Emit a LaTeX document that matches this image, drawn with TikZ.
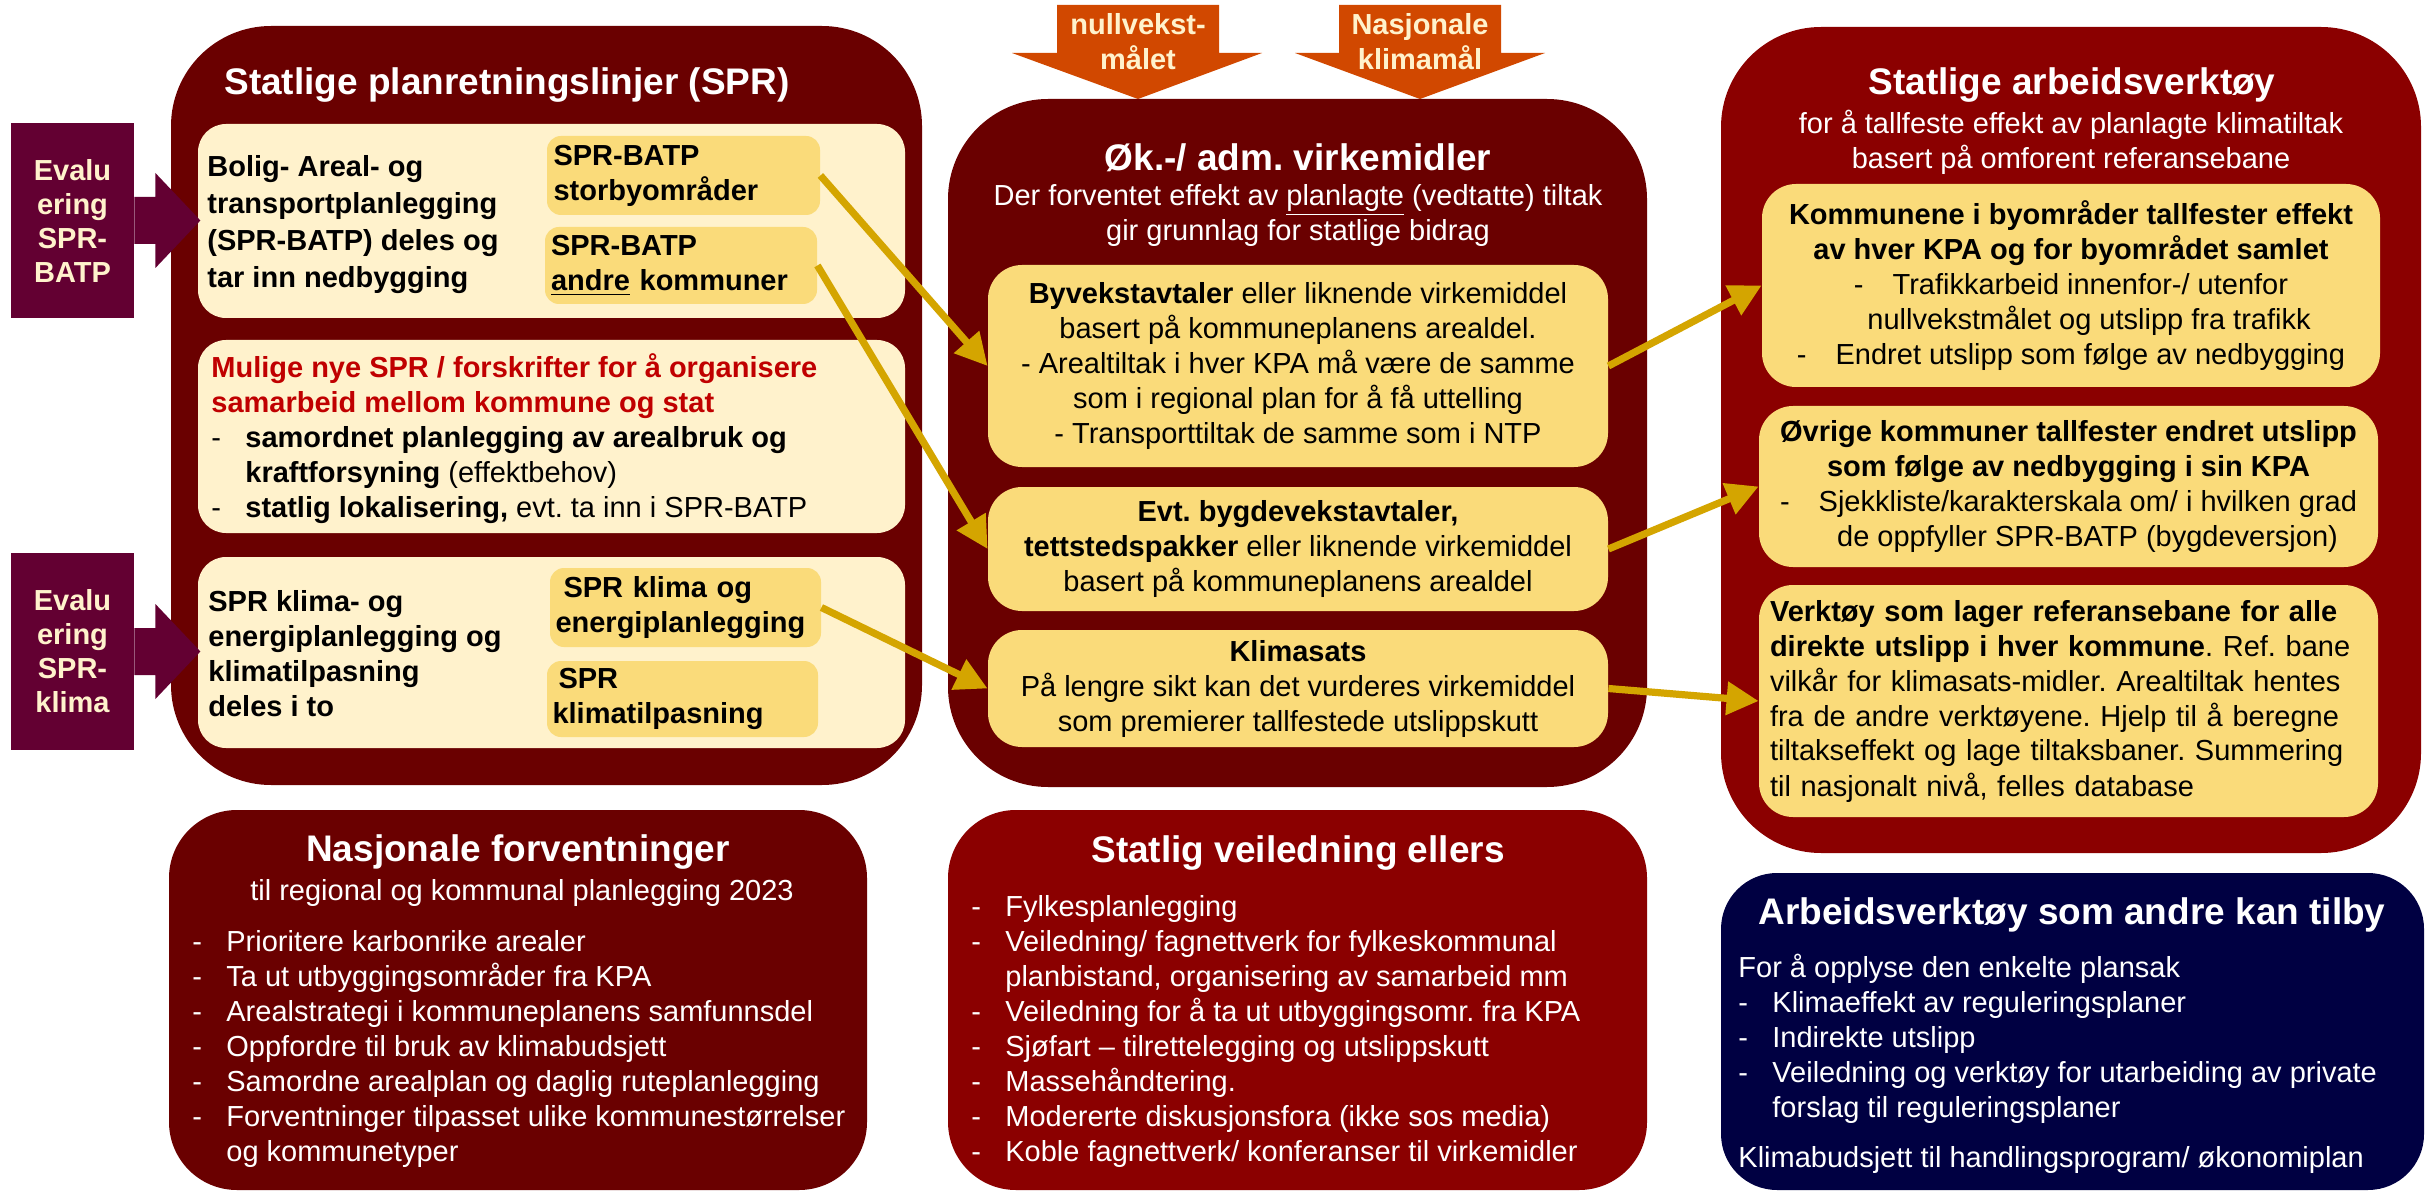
\documentclass[tikz,border=0pt]{standalone}
\usepackage{fontspec}
\setmainfont{Liberation Sans}
\usetikzlibrary{arrows.meta}
\frenchspacing

\definecolor{panelmaroon}{RGB}{106,0,0}
\definecolor{panelred}{RGB}{139,0,0}
\definecolor{panelnavy}{RGB}{0,0,66}
\definecolor{cream}{RGB}{255,242,204}
\definecolor{yellowbox}{RGB}{250,219,122}
\definecolor{evalpurple}{RGB}{99,0,50}
\definecolor{goalorange}{RGB}{209,72,0}
\definecolor{linkgold}{RGB}{212,165,0}
\definecolor{newred}{RGB}{192,0,0}

\newcommand{\lidash}{\makebox[17pt][l]{-}}
\newcommand{\liskip}{\hspace*{17pt}}

\tikzset{
  bigpanel/.style={rectangle, rounded corners=50pt},
  smallpanel/.style={rectangle, rounded corners=34pt},
  heading/.style={text=white, font=\bfseries\fontsize{18.5}{22}\selectfont},
  subhead/.style={text=white, align=center},
  creampanel/.style={fill=cream, rounded corners=14pt, minimum width=353.5pt},
  yellowpanel/.style={fill=yellowbox, rounded corners=17pt, minimum width=310pt, align=center},
  yellowtag/.style={fill=yellowbox, rounded corners=7pt, align=left, text width=130pt,
    font=\bfseries\fontsize{14.5}{17.5}\selectfont},
  evalbox/.style={fill=evalpurple, text=cream, minimum width=61.5pt, align=center,
    font=\bfseries\fontsize{14.5}{17}\selectfont},
  goaltext/.style={text=cream, align=center, font=\bfseries\fontsize{14.5}{17.5}\selectfont},
  link/.style={draw=linkgold, line width=3.6pt, -{Triangle[length=16pt,width=16pt]}}
}

\begin{document}
\begin{tikzpicture}[x=0.5pt, y=0.5pt,
  every node/.style={inner sep=0pt, font=\fontsize{14.5}{17.5}\selectfont}]
\useasboundingbox (0,-1192) rectangle (2435,0);

\node[bigpanel, fill=panelmaroon, minimum width=375.5pt, minimum height=379.5pt] (spr) at (546.5,-405.5) {};
\node[heading] (sprtitle) at (507,-85) {Statlige planretningslinjer (SPR)};
\node[creampanel, minimum height=97pt] (batp) at (551.5,-221) {};
\node[anchor=west, align=left, font=\bfseries\fontsize{14.5}{18.5}\selectfont] (batptext) at (207,-225) {Bolig- Areal- og\\transportplanlegging\\(SPR-BATP) deles og\\tar inn nedbygging};
\node[yellowtag, minimum width=136.5pt, minimum height=39.5pt] (storby) at (683.5,-175.5) {SPR-BATP\\storbyområder};
\node[yellowtag, minimum width=136pt, minimum height=38.5pt] (andre) at (681,-265.5) {SPR-BATP\\\underline{andre} kommuner};

\node[creampanel, minimum height=96.5pt] (mulige) at (551.5,-436.5) {};
\node[anchor=west, align=left] (muligetext) at (211,-439) {\textcolor{newred}{\bfseries Mulige nye SPR / forskrifter for å organisere}\\\textcolor{newred}{\bfseries samarbeid mellom kommune og stat}\\\lidash\textbf{samordnet planlegging av arealbruk og}\\\liskip\textbf{kraftforsyning} (effektbehov)\\\lidash\textbf{statlig lokalisering,} evt. ta inn i SPR-BATP};

\node[creampanel, minimum height=95.5pt] (klima) at (551.5,-652.5) {};
\node[anchor=west, align=left, font=\bfseries\fontsize{14.5}{17.5}\selectfont] (klimatext) at (208,-653.5) {SPR klima- og\\energiplanlegging og\\klimatilpasning\\deles i to};
\node[yellowtag, minimum width=135.5pt, minimum height=39.5pt] (klimaenergi) at (685.5,-607.5) {\hspace*{4pt}SPR klima og\\energiplanlegging};
\node[yellowtag, minimum width=135.5pt, minimum height=38pt] (klimatilp) at (682.5,-699) {\hspace*{3pt}SPR\\klimatilpasning};

\node[evalbox, minimum height=97.5pt] (evalbatp) at (72.5,-220.5) {Evalu\\ering\\SPR-\\BATP};
\fill[evalpurple] (evalbatp.east) ++(0,23.5) -- ++(21,0) -- ++(0,24) -- ++(45,-47.5) -- ++(-45,-47.5) -- ++(0,24) -- ++(-21,0) -- cycle;
\node[evalbox, minimum height=98.5pt] (evalklima) at (72.5,-651.5) {Evalu\\ering\\SPR-\\klima};
\fill[evalpurple] (evalklima.east) ++(0,23.5) -- ++(21,0) -- ++(0,24) -- ++(45,-47.5) -- ++(-45,-47.5) -- ++(0,24) -- ++(-21,0) -- cycle;

\node[smallpanel, fill=panelmaroon, minimum width=349pt, minimum height=190pt] (nasjonale) at (518,-1000) {};
\node[heading] (nasjonaletitle) at (518,-852) {Nasjonale forventninger};
\node[text=white] (nasjonalesub) at (522,-893) {til regional og kommunal planlegging 2023};
\node[anchor=west, align=left, text=white] (nasjonalelist) at (192,-1049) {\lidash Prioritere karbonrike arealer\\\lidash Ta ut utbyggingsområder fra KPA\\\lidash Arealstrategi i kommuneplanens samfunnsdel\\\lidash Oppfordre til bruk av klimabudsjett\\\lidash Samordne arealplan og daglig ruteplanlegging\\\lidash Forventninger tilpasset ulike kommunestørrelser\\\liskip og kommunetyper};

\fill[goalorange] (1057,-5) -- (1219,-5) -- (1219,-53) -- (1262,-53) -- (1138,-99) -- (1012,-53) -- (1057,-53) -- cycle;
\node[goaltext] (nullvekst) at (1138,-42) {nullvekst-\\målet};
\fill[goalorange] (1339,-5) -- (1501,-5) -- (1501,-53) -- (1545,-53) -- (1420,-99) -- (1295,-53) -- (1339,-53) -- cycle;
\node[goaltext] (klimamaal) at (1420,-42) {Nasjonale\\klimamål};

\node[bigpanel, fill=panelmaroon, minimum width=349.5pt, minimum height=344pt] (okvirk) at (1297.5,-443) {};
\node[heading] (okvirktitle) at (1298,-158) {Øk.-/ adm. virkemidler};
\node[subhead] (okvirksub) at (1298,-215.5) {Der forventet effekt av \underline{planlagte} (vedtatte) tiltak\\gir grunnlag for statlige bidrag};
\node[yellowpanel, minimum height=101pt] (byvekst) at (1298,-366) {\textbf{Byvekstavtaler} eller liknende virkemiddel\\basert på kommuneplanens arealdel.\\- Arealtiltak i hver KPA må være de samme\\som i regional plan for å få uttelling\\- Transporttiltak de samme som i NTP};
\node[yellowpanel, minimum height=62pt] (bygde) at (1298,-549) {\textbf{Evt. bygdevekstavtaler,}\\\textbf{tettstedspakker} eller liknende virkemiddel\\basert på kommuneplanens arealdel};
\node[yellowpanel, minimum height=58.5pt] (klimasats) at (1298,-688.5) {\textbf{Klimasats}\\På lengre sikt kan det vurderes virkemiddel\\som premierer tallfestede utslippskutt};

\node[smallpanel, fill=panelred, minimum width=349.5pt, minimum height=190pt] (veiledning) at (1297.5,-1000) {};
\node[heading] (veiledningtitle) at (1298,-853) {Statlig veiledning ellers};
\node[anchor=west, align=left, text=white] (veiledninglist) at (971,-1031.5) {\lidash Fylkesplanlegging\\\lidash Veiledning/ fagnettverk for fylkeskommunal\\\liskip planbistand, organisering av samarbeid mm\\\lidash Veiledning for å ta ut utbyggingsomr. fra KPA\\\lidash Sjøfart -- tilrettelegging og utslippskutt\\\lidash Massehåndtering.\\\lidash Modererte diskusjonsfora (ikke sos media)\\\lidash Koble fagnettverk/ konferanser til virkemidler};

\node[bigpanel, fill=panelred, minimum width=350pt, minimum height=413pt] (arbeid) at (2071,-440) {};
\node[heading] (arbeidtitle) at (2072,-85) {Statlige arbeidsverktøy};
\node[subhead] (arbeidsub) at (2071,-142.5) {for å tallfeste effekt av planlagte klimatiltak\\basert på omforent referansebane};
\node[yellowpanel, minimum width=309pt, minimum height=101.5pt] (kommunene) at (2071,-285.5) {\textbf{Kommunene i byområder tallfester effekt}\\\textbf{av hver KPA og for byområdet samlet}\\-\quad Trafikkarbeid innenfor-/ utenfor\\\hspace*{18pt}nullvekstmålet og utslipp fra trafikk\\-\quad Endret utslipp som følge av nedbygging};
\node[yellowpanel, minimum width=309.5pt, minimum height=80.5pt] (ovrige) at (2068.5,-486.5) {\textbf{Øvrige kommuner tallfester endret utslipp}\\\textbf{som følge av nedbygging i sin KPA}\\-\quad Sjekkliste/karakterskala om/ i hvilken grad\\\hspace*{19pt}de oppfyller SPR-BATP (bygdeversjon)};
\node[yellowpanel, minimum width=309.5pt, minimum height=116pt, align=left, text width=298.5pt] (verktoy) at (2068.5,-701) {\textbf{Verktøy som lager referansebane for alle}\\\textbf{direkte utslipp i hver kommune}. Ref. bane\\vilkår for klimasats-midler. Arealtiltak hentes\\fra de andre verktøyene. Hjelp til å beregne\\tiltakseffekt og lage tiltaksbaner. Summering\\til nasjonalt nivå, felles database};

\node[smallpanel, rounded corners=28pt, fill=panelnavy, minimum width=351.5pt, minimum height=158.5pt] (tilby) at (2072.5,-1031.5) {};
\node[heading] (tilbytitle) at (2072,-915) {Arbeidsverktøy som andre kan tilby};
\node[anchor=west, align=left, text=white] (tilbylist) at (1738,-1039) {For å opplyse den enkelte plansak\\\lidash Klimaeffekt av reguleringsplaner\\\lidash Indirekte utslipp\\\lidash Veiledning og verktøy for utarbeiding av private\\\liskip forslag til reguleringsplaner};
\node[anchor=west, text=white] (tilbybudsjett) at (1738,-1160) {Klimabudsjett til handlingsprogram/ økonomiplan};

\draw [link] (storby.east) -- (byvekst.west);
\draw [link] (andre.east) -- (bygde.west);
\draw [link] (klimaenergi.east) -- (klimasats.west);
\draw [link] (byvekst.east) -- (kommunene.west);
\draw [link] (bygde.east) -- (ovrige.west);
\draw [link] (klimasats.east) -- (verktoy.west);
\end{tikzpicture}
\end{document}
